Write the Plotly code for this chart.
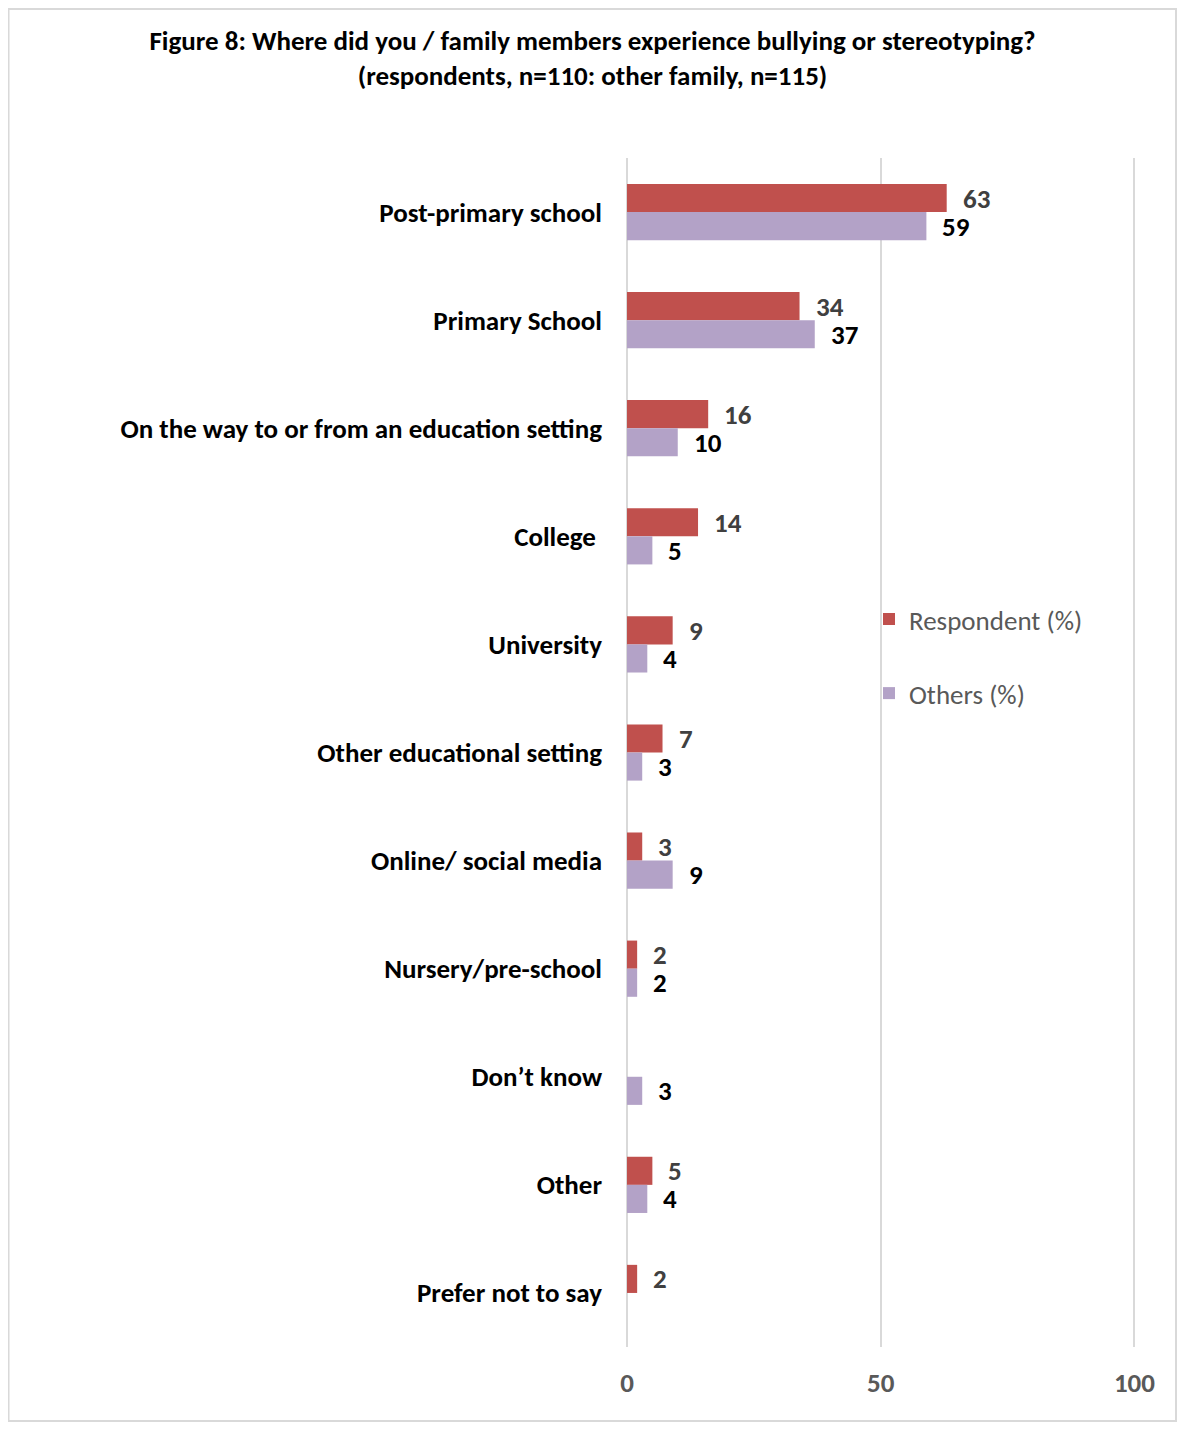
import plotly.graph_objects as go

categories = ["Post-primary school", "Primary School", "On the way to or from an education setting",
              "College\u00a0", "University", "Other educational setting", "Online/ social media",
              "Nursery/pre-school", "Don’t know", "Other", "Prefer not to say"]
respondent = [63, 34, 16, 14, 9, 7, 3, 2, None, 5, 2]
others = [59, 37, 10, 5, 4, 3, 9, 2, 3, 4, None]
x_ticks = [0, 50, 100]

FONT = "Carlito, Calibri, 'Liberation Sans Narrow', 'Open Sans', sans-serif"
FS = 27
RED = "#C0504D"
PURPLE = "#B3A2C7"
GRID = "#D9D9D9"

fig = go.Figure()
fig.add_trace(go.Bar(y=categories, x=respondent, orientation="h", name="Respondent (%)",
                     marker=dict(color=RED, line=dict(width=0)), legendgroup="a"))
fig.add_trace(go.Bar(y=categories, x=others, orientation="h", name="Others (%)",
                     marker=dict(color=PURPLE, line=dict(width=0)), legendgroup="b"))

annotations = []
for cat, v in zip(categories, respondent):
    if v is not None:
        annotations.append(dict(x=v, y=cat, xref="x", yref="y", text=f"<b>{v}</b>", showarrow=False,
                                xanchor="left", xshift=14, yshift=14,
                                font=dict(family=FONT, size=FS, color="#404040")))
for cat, v in zip(categories, others):
    if v is not None:
        annotations.append(dict(x=v, y=cat, xref="x", yref="y", text=f"<b>{v}</b>", showarrow=False,
                                xanchor="left", xshift=14, yshift=-14,
                                font=dict(family=FONT, size=FS, color="#000000")))

fig.update_layout(
    width=1169, height=1414,
    margin=dict(l=619, r=40, t=150, b=75),
    paper_bgcolor="white", plot_bgcolor="white",
    font=dict(family=FONT),
    title=dict(text="<b>Figure 8: Where did you / family members experience bullying or stereotyping?<br>(respondents, n=110: other family, n=115)</b>",
               x=0.5, xref="container", xanchor="center", y=0.9703, yanchor="top",
               font=dict(family=FONT, size=FS, color="#000000")),
    barmode="group", bargap=0.48, bargroupgap=0,
    legend=dict(x=0.4745, y=0.6325, xanchor="left", yanchor="top", traceorder="grouped",
                tracegroupgap=36, font=dict(family=FONT, size=FS, color="#595959"),
                bgcolor="rgba(0,0,0,0)"),
    annotations=annotations,
    shapes=[dict(type="rect", xref="paper", yref="paper",
                 x0=-1.2127, x1=1.0765, y0=-0.0622, y1=1.1253,
                 line=dict(color=GRID, width=2), layer="below")],
)
fig.update_xaxes(range=[0, 100.5], tickvals=x_ticks, ticktext=[f"<b>{t}</b>" for t in x_ticks],
                 showgrid=True, gridcolor=GRID, gridwidth=2,
                 zeroline=True, zerolinecolor=GRID, zerolinewidth=2,
                 showline=False, ticks="", ticklabelstandoff=17,
                 tickfont=dict(family=FONT, size=FS, color="#595959"))
fig.update_yaxes(autorange="reversed", ticktext=[f"<b>{c}</b>" for c in categories],
                 tickvals=categories, showgrid=False, zeroline=False, showline=False, ticks="",
                 ticklabelstandoff=24, tickfont=dict(family=FONT, size=FS, color="#000000"))

fig.write_html("out.html")
